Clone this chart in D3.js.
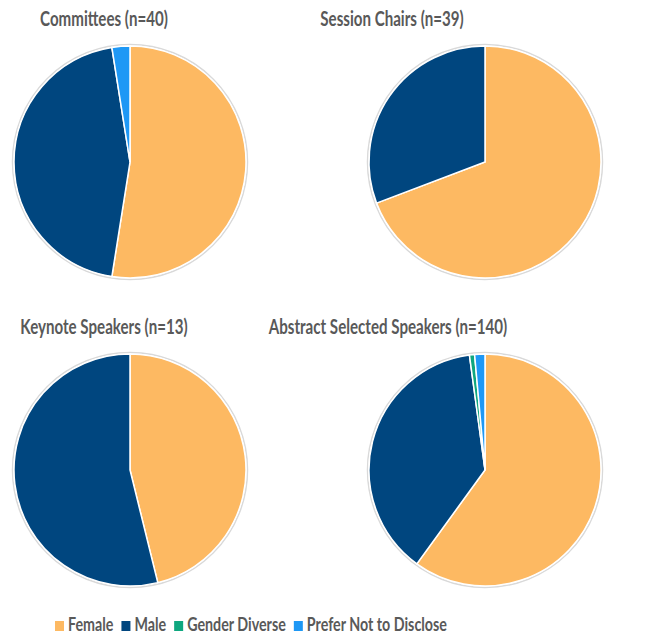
<!DOCTYPE html>
<html>
<head>
<meta charset="utf-8">
<script src="https://cdn.jsdelivr.net/npm/d3@7"></script>
<style>
  body { margin: 0; background: #fff; }
  text { font-family: Lato, "Open Sans", sans-serif; font-weight: bold; fill: #595959; }
</style>
</head>
<body>
<svg id="chart" width="646" height="636"></svg>
<script>
// categories and counts per panel
var categories = ["Female", "Male", "Gender Diverse", "Prefer Not to Disclose"];
var colors = ["#FDB962", "#00467F", "#0FA77F", "#1E98F5"];

var panelTitles = ["Committees (n=40)", "Session Chairs (n=39)", "Keynote Speakers (n=13)", "Abstract Selected Speakers (n=140)"];
var committees = [21, 18, 0, 1];
var sessionChairs = [27, 12, 0, 0];
var keynoteSpeakers = [6, 7, 0, 0];
var abstractSpeakers = [84, 53, 1, 2];
var panelValues = [committees, sessionChairs, keynoteSpeakers, abstractSpeakers];

var svg = d3.select('#chart');
var color = d3.scaleOrdinal().domain(categories).range(colors);

var radius = 116;
var centers = [[130, 162], [485, 162], [130, 470], [485, 470]];
var titlePos = [[104, 26], [392, 26], [104, 334], [388, 334]];

// narrow the glyphs a bit, Calibri-like
function narrow(t, squeeze) {
  var w = t.node().getComputedTextLength();
  t.attr('textLength', w * squeeze).attr('lengthAdjust', 'spacingAndGlyphs');
  return w * squeeze;
}

var pie = d3.pie().sort(null).value(function(d){ return d.value; });
var arc = d3.arc().innerRadius(0).outerRadius(radius);

panelValues.forEach(function(vals, i){
  var data = categories.map(function(c, j){ return {cat: c, value: vals[j]}; });

  var t = svg.append('text')
    .attr('x', titlePos[i][0])
    .attr('y', titlePos[i][1])
    .attr('text-anchor', 'middle')
    .style('font-size', '20px')
    .text(panelTitles[i]);
  narrow(t, 0.756);

  var g = svg.append('g').attr('transform', 'translate(' + centers[i][0] + ',' + centers[i][1] + ')');

  // faint outer ring
  g.append('circle').attr('r', radius + 1.5).attr('fill', 'none').attr('stroke', '#d9d9d9').attr('stroke-width', 1.5);

  g.selectAll('path')
    .data(pie(data).filter(function(d){ return d.value > 0; }))
    .enter().append('path')
    .attr('d', arc)
    .attr('fill', function(d){ return color(d.data.cat); })
    .attr('stroke', '#fff')
    .attr('stroke-width', 1.5);
});

// legend
var legend = svg.append('g').attr('transform', 'translate(0,631)');
var lx = 55;
categories.forEach(function(c, i){
  legend.append('rect')
    .attr('x', lx).attr('y', -10)
    .attr('width', 9).attr('height', 10)
    .attr('fill', color(c));
  var t = legend.append('text')
    .attr('x', lx + 13).attr('y', 0)
    .style('font-size', '18px')
    .text(c);
  lx += 13 + narrow(t, 0.793) + 8;
});
</script>
</body>
</html>
